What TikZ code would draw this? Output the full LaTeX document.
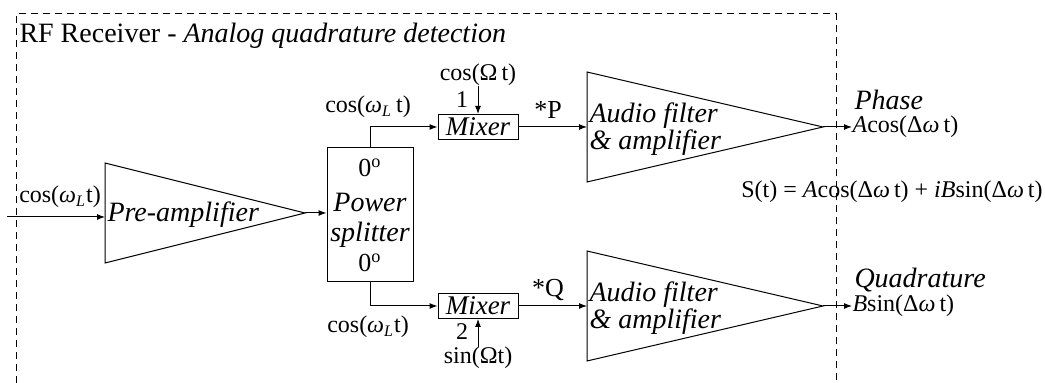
\documentclass[tikz,border=0pt]{standalone}
\usepackage{fontspec}
\setmainfont{Liberation Serif}
\usepackage{tikz}
\usetikzlibrary{
	arrows.meta,
	calc,
	positioning
}

\newcommand{\omL}{{\itshape ω}\textsubscript{\itshape L}}

\begin{document}
\begin{tikzpicture}[x=0.5pt, y=-0.5pt, line width=0.5pt,
	lbl/.style = {font=\fontsize{12}{14}\selectfont, inner sep=0pt},
	blk/.style = {font=\fontsize{14}{11.5}\selectfont\itshape, inner sep=0pt},
	box/.style = {draw, inner sep=0pt},
	arr/.style = {-{Latex[length=4pt,width=3pt]}}]
	
	\useasboundingbox (0,0) rectangle (1045,383);
	
	% receiver frame
	\draw[dash pattern=on 3.5pt off 2.5pt] (16,383) -- (16,14) -- (836,14) -- (836,383);
	\node[anchor=base west, inner sep=0pt, font=\fontsize{14}{16}\selectfont] (title) at (19,43)
	{RF Receiver - \textit{Analog quadrature detection}};
	
	% input and pre-amplifier
	\coordinate (inp) at (7,217);
	\coordinate (pa in) at (105,217);
	\coordinate (pa out) at (305,213);
	\draw (105,163) -- (pa out) -- (105,263) -- cycle;
	\node[lbl] (inlbl) at (60,197) {cos(\omL t)};
	\node[blk, anchor=west] (pa) at (107,215) {Pre-amplifier};
	\draw[arr] (inp) -- (pa in);
	
	% power splitter
	\node[box, minimum width=43pt, minimum height=67pt] (split) at (370,215) {};
	\node[lbl, font=\fontsize{13}{14}\selectfont] (deg1) at (370,168) {0\textsuperscript{o}};
	\node[blk] (pw) at (370,202) {Power};
	\node[blk] (sp) at (370,235) {splitter};
	\node[lbl, font=\fontsize{13}{14}\selectfont] (deg2) at (370,263) {0\textsuperscript{o}};
	\draw[arr] (pa out) -- (split.west |- pa out);
	
	% mixers
	\node[box, minimum width=40pt, minimum height=12.5pt, font=\fontsize{13.5}{14}\selectfont\itshape] (mix1) at (478,127) {Mixer};
	\node[box, minimum width=40pt, minimum height=12.5pt, font=\fontsize{13.5}{14}\selectfont\itshape] (mix2) at (478,306) {Mixer};
	\draw[arr] (split.north) |- (mix1.west);
	\draw[arr] (split.south) |- (mix2.west);
	\node[lbl] (lo1) at (368,107) {cos(\omL\,t)};
	\node[lbl] (lo2) at (368,327) {cos(\omL t)};
	
	\node[lbl] (cosO) at (478,75) {cos(Ω\,t)};
	\node[lbl] (one) at (462,100) {1};
	\draw[arr] (cosO.south) -- (mix1.north);
	\node[lbl] (sinO) at (478,358) {sin(Ωt)};
	\node[lbl] (two) at (462,332) {2};
	\draw[arr] (sinO.north) -- (mix2.south);
	
	\node[lbl, font=\fontsize{13}{14}\selectfont] (P) at (548,110) {*P};
	\node[lbl, font=\fontsize{13}{14}\selectfont] (Q) at (548,290) {*Q};
	
	% audio filters
	\coordinate (af1 in) at (587,127);
	\coordinate (af1 out) at (823,127);
	\draw (587,72) -- (af1 out) -- (587,182) -- cycle;
	\node[blk, anchor=west, align=left] (af1) at (589,129) {Audio filter\\\& amplifier};
	\draw[arr] (mix1.east) -- (af1 in);
	
	\coordinate (af2 in) at (587,306);
	\coordinate (af2 out) at (823,306);
	\draw (587,251) -- (af2 out) -- (587,361) -- cycle;
	\node[blk, anchor=west, align=left] (af2) at (589,308) {Audio filter\\\& amplifier};
	\draw[arr] (mix2.east) -- (af2 in);
	
	% outputs
	\node[blk, anchor=west] (ph) at (854,100) {Phase};
	\node[lbl, anchor=west] (phval) at (852,127) {\textit{A}cos(Δ{\itshape ω}\,t)};
	\draw[arr] (af1 out) -- (phval.west);
	
	\node[blk, anchor=west] (qu) at (854,280) {Quadrature};
	\node[lbl, anchor=west] (quval) at (852,306) {\textit{B}sin(Δ{\itshape ω}\,t)};
	\draw[arr] (af2 out) -- (quval.west);
	
	\node[lbl] (sig) at (892,192) {S(t) = \textit{A}cos(Δ{\itshape ω}\,t) + \textit{iB}sin(Δ{\itshape ω}\,t)};
	
\end{tikzpicture}
\end{document}
